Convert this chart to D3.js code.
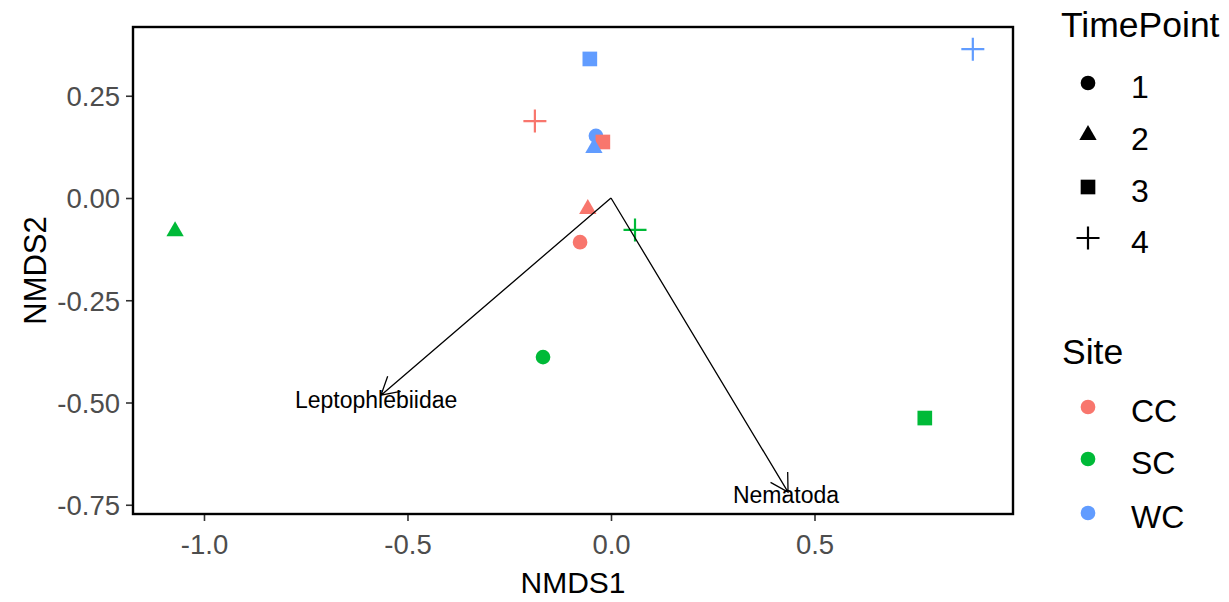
<!DOCTYPE html>
<html>
<head>
<meta charset="utf-8">
<script src="https://cdn.jsdelivr.net/npm/d3@7"></script>
<style>
  html, body { margin: 0; padding: 0; background: #fff; }
  svg { display: block; font-family: "Liberation Sans", Arial, sans-serif; }
</style>
</head>
<body>
<svg id="chart" width="1229" height="602"></svg>
<script>
// ---- data ----
const sites = ["CC", "SC", "WC"];
const siteColors = ["#F8766D", "#00BA38", "#619CFF"];
const timePoints = ["1", "2", "3", "4"];

const pointSite = ["WC", "CC", "WC", "CC", "WC", "CC", "CC", "SC", "SC", "SC", "SC", "WC"];
const pointTime = ["3", "4", "1", "3", "2", "2", "1", "4", "2", "1", "3", "4"];
const nmds1 = [-0.052, -0.187, -0.037, -0.020, -0.042, -0.057, -0.076, 0.059, -1.071, -0.167, 0.771, 0.889];
const nmds2 = [0.340, 0.188, 0.152, 0.137, 0.122, -0.027, -0.108, -0.078, -0.081, -0.389, -0.538, 0.364];

const taxa = ["Leptophlebiidae", "Nematoda"];
const arrowX = [-0.565, 0.435];
const arrowY = [-0.482, -0.719];
const labelX = [-0.577, 0.430];
const labelY = [-0.494, -0.726];

const xTicks = [-1.0, -0.5, 0.0, 0.5];
const xTickLabels = ["-1.0", "-0.5", "0.0", "0.5"];
const yTicks = [0.25, 0.00, -0.25, -0.50, -0.75];
const yTickLabels = ["0.25", "0.00", "-0.25", "-0.50", "-0.75"];

// ---- layout ----
const svg = d3.select("#chart");
const panel = { left: 133, right: 1013, top: 27, bottom: 514 };
const x = d3.scaleLinear().domain([-1.1744, 0.9877]).range([panel.left, panel.right]);
const y = d3.scaleLinear().domain([-0.7726, 0.4181]).range([panel.bottom, panel.top]);
const color = d3.scaleOrdinal().domain(sites).range(siteColors);

function shapePath(t) {
  if (t === "1") return d3.symbol(d3.symbolCircle, 170)();
  if (t === "2") return d3.symbol(d3.symbolTriangle, 130)();
  if (t === "3") return d3.symbol(d3.symbolSquare, 215)();
  const h = 11.5;
  return `M${-h},0H${h}M0,${-h}V${h}`;
}

// axes
const xAxis = d3.axisBottom(x).tickValues(xTicks).tickFormat((d, i) => xTickLabels[i]).tickSize(7).tickPadding(8);
const yAxis = d3.axisLeft(y).tickValues(yTicks).tickFormat((d, i) => yTickLabels[i]).tickSize(7).tickPadding(6);

const gx = svg.append("g").attr("transform", `translate(0,${panel.bottom})`).call(xAxis);
const gy = svg.append("g").attr("transform", `translate(${panel.left},0)`).call(yAxis);
[gx, gy].forEach(g => {
  g.select(".domain").remove();
  g.selectAll(".tick line").attr("stroke", "#333").attr("stroke-width", 1.6);
  g.selectAll(".tick text").attr("fill", "#4D4D4D").attr("font-size", 27.5);
});
gx.selectAll(".tick text").attr("dy", "0.9em");
gy.selectAll(".tick text").attr("dy", "0.36em");

// points
svg.append("g").selectAll("path.pt")
  .data(nmds1.map((v, i) => i))
  .join("path")
  .attr("class", "pt")
  .attr("transform", i => `translate(${x(nmds1[i])},${y(nmds2[i])})`)
  .attr("d", i => shapePath(pointTime[i]))
  .attr("fill", i => pointTime[i] === "4" ? "none" : color(pointSite[i]))
  .attr("stroke", i => pointTime[i] === "4" ? color(pointSite[i]) : "none")
  .attr("stroke-width", 2.2);

// arrows
const headLen = 20, headAng = Math.PI / 6;
const ag = svg.append("g").attr("stroke", "#000").attr("stroke-width", 1.3).attr("fill", "none");
taxa.forEach((t, i) => {
  const x0 = x(0), y0 = y(0), x1 = x(arrowX[i]), y1 = y(arrowY[i]);
  const a = Math.atan2(y1 - y0, x1 - x0);
  const p1 = [x1 - headLen * Math.cos(a - headAng), y1 - headLen * Math.sin(a - headAng)];
  const p2 = [x1 - headLen * Math.cos(a + headAng), y1 - headLen * Math.sin(a + headAng)];
  ag.append("path").attr("d", `M${x0},${y0}L${x1},${y1}M${p1[0]},${p1[1]}L${x1},${y1}L${p2[0]},${p2[1]}`);
});
svg.append("g").selectAll("text")
  .data(taxa)
  .join("text")
  .attr("x", (d, i) => x(labelX[i]))
  .attr("y", (d, i) => y(labelY[i]))
  .attr("text-anchor", "middle")
  .attr("dominant-baseline", "central")
  .attr("font-size", 23)
  .attr("fill", "#000")
  .text(d => d);

// panel border
svg.append("rect")
  .attr("x", panel.left).attr("y", panel.top)
  .attr("width", panel.right - panel.left).attr("height", panel.bottom - panel.top)
  .attr("fill", "none").attr("stroke", "#000").attr("stroke-width", 2.4);

// axis titles
svg.append("text").attr("x", (panel.left + panel.right) / 2).attr("y", 593)
  .attr("text-anchor", "middle").attr("font-size", 30).text("NMDS1");
svg.append("text").attr("transform", `translate(46,${(panel.top + panel.bottom) / 2}) rotate(-90)`)
  .attr("text-anchor", "middle").attr("font-size", 31).text("NMDS2");

// legends
const lg = svg.append("g");
lg.append("text").attr("x", 1061).attr("y", 37).attr("font-size", 35.5).text("TimePoint");
const tpY = [83, 135, 187, 238];
timePoints.forEach((t, i) => {
  lg.append("path").attr("transform", `translate(1088,${tpY[i]})`)
    .attr("d", shapePath(t))
    .attr("fill", t === "4" ? "none" : "#000")
    .attr("stroke", t === "4" ? "#000" : "none").attr("stroke-width", 2.2);
  lg.append("text").attr("x", 1131).attr("y", tpY[i] + 4).attr("dominant-baseline", "central")
    .attr("font-size", 32).text(t);
});
lg.append("text").attr("x", 1062).attr("y", 364).attr("font-size", 35.5).text("Site");
const sY = [407, 459, 513];
sites.forEach((s, i) => {
  lg.append("path").attr("transform", `translate(1088,${sY[i]})`)
    .attr("d", shapePath("1")).attr("fill", color(s));
  lg.append("text").attr("x", 1131).attr("y", sY[i] + 4).attr("dominant-baseline", "central")
    .attr("font-size", 32).text(s);
});
</script>
</body>
</html>
